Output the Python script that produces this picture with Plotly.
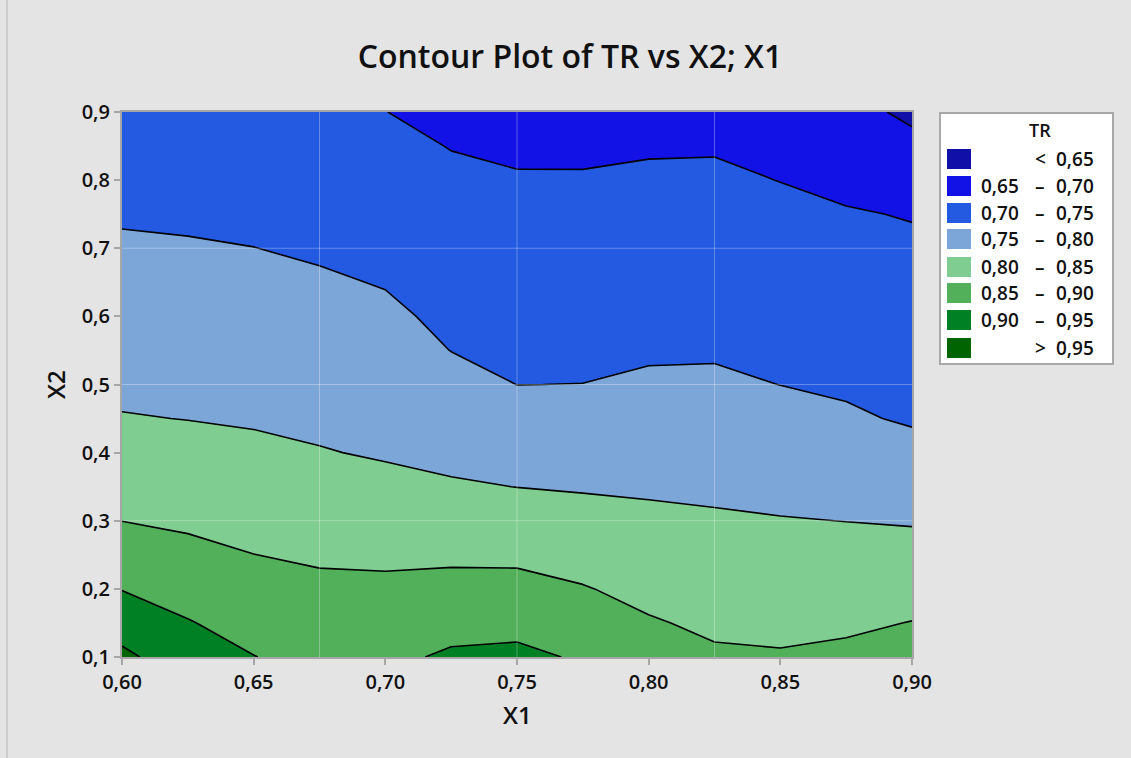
import numpy as np
import plotly.graph_objects as go

# Grid of the fitted response TR over X1 (columns) and X2 (rows)
x1_values = [0.600, 0.625, 0.650, 0.675, 0.700, 0.725, 0.750, 0.775, 0.800, 0.825, 0.850, 0.875, 0.900]
x2_values = [0.10, 0.15, 0.20, 0.25, 0.30, 0.35, 0.40, 0.45, 0.50, 0.55, 0.60, 0.65, 0.70, 0.75, 0.80, 0.85, 0.90]

# TR along X2 (0.10 -> 0.90), one list per X1 column
tr_x1_0600 = [0.9600, 0.9290, 0.8985, 0.8740, 0.8497, 0.8338, 0.8180, 0.8020, 0.7920, 0.7828, 0.7736, 0.7644, 0.7552, 0.7460, 0.7367, 0.7275, 0.7183]
tr_x1_0625 = [0.9230, 0.9025, 0.8818, 0.8612, 0.8432, 0.8284, 0.8136, 0.7993, 0.7900, 0.7809, 0.7717, 0.7625, 0.7533, 0.7440, 0.7348, 0.7256, 0.7164]
tr_x1_0650 = [0.9010, 0.8837, 0.8670, 0.8503, 0.8362, 0.8222, 0.8081, 0.7962, 0.7870, 0.7779, 0.7687, 0.7596, 0.7504, 0.7404, 0.7304, 0.7204, 0.7104]
tr_x1_0675 = [0.8850, 0.8719, 0.8584, 0.8446, 0.8304, 0.8162, 0.8020, 0.7920, 0.7826, 0.7733, 0.7640, 0.7547, 0.7450, 0.7350, 0.7250, 0.7150, 0.7050]
tr_x1_0700 = [0.8900, 0.8741, 0.8582, 0.8423, 0.8261, 0.8100, 0.7963, 0.7866, 0.7769, 0.7672, 0.7575, 0.7479, 0.7384, 0.7289, 0.7194, 0.7099, 0.7004]
tr_x1_0725 = [0.9065, 0.8848, 0.8630, 0.8424, 0.8233, 0.8042, 0.7897, 0.7764, 0.7632, 0.7495, 0.7415, 0.7329, 0.7244, 0.7159, 0.7073, 0.6988, 0.6900]
tr_x1_0750 = [0.9103, 0.8869, 0.8636, 0.8413, 0.8204, 0.7996, 0.7831, 0.7666, 0.7498, 0.7421, 0.7342, 0.7263, 0.7184, 0.7104, 0.7025, 0.6947, 0.6868]
tr_x1_0775 = [0.8950, 0.8738, 0.8525, 0.8335, 0.8147, 0.7966, 0.7812, 0.7657, 0.7503, 0.7422, 0.7343, 0.7264, 0.7184, 0.7105, 0.7025, 0.6946, 0.6867]
tr_x1_0800 = [0.8685, 0.8536, 0.8386, 0.8237, 0.8087, 0.7946, 0.7816, 0.7686, 0.7556, 0.7454, 0.7373, 0.7293, 0.7212, 0.7131, 0.7050, 0.6969, 0.6888]
tr_x1_0825 = [0.8556, 0.8429, 0.8302, 0.8175, 0.8048, 0.7925, 0.7804, 0.7683, 0.7563, 0.7461, 0.7380, 0.7299, 0.7218, 0.7136, 0.7055, 0.6974, 0.6893]
tr_x1_0850 = [0.8534, 0.8405, 0.8276, 0.8147, 0.8018, 0.7888, 0.7758, 0.7628, 0.7497, 0.7414, 0.7330, 0.7247, 0.7163, 0.7079, 0.6995, 0.6894, 0.6794]
tr_x1_0875 = [0.8584, 0.8436, 0.8289, 0.8142, 0.7996, 0.7848, 0.7701, 0.7553, 0.7447, 0.7363, 0.7280, 0.7196, 0.7113, 0.7029, 0.6909, 0.6769, 0.6629]
tr_x1_0900 = [0.8692, 0.8511, 0.8330, 0.8149, 0.7969, 0.7799, 0.7628, 0.7457, 0.7396, 0.7313, 0.7230, 0.7146, 0.7063, 0.6980, 0.6800, 0.6600, 0.6422]

tr_columns = [tr_x1_0600, tr_x1_0625, tr_x1_0650, tr_x1_0675, tr_x1_0700, tr_x1_0725, tr_x1_0750,
              tr_x1_0775, tr_x1_0800, tr_x1_0825, tr_x1_0850, tr_x1_0875, tr_x1_0900]

# Contour levels and band legend
level_start, level_end, level_step = 0.65, 0.95, 0.05
band_labels = [("<", "0,65"), ("0,65", "0,70"), ("0,70", "0,75"), ("0,75", "0,80"),
               ("0,80", "0,85"), ("0,85", "0,90"), ("0,90", "0,95"), (">", "0,95")]
band_colors = ["#1010a8", "#1212e6", "#235ae1", "#7da6d8",
               "#80cd91", "#52b05a", "#008024", "#006400"]

z = np.array(tr_columns).T  # rows follow X2, columns follow X1

# Stepped colour scale: band k is sampled at k/7 by the fill colouring
n = len(band_colors)
colorscale = []
for k, c in enumerate(band_colors):
    lo = 0.0 if k == 0 else (k - 0.5) / (n - 1)
    hi = 1.0 if k == n - 1 else (k + 0.5) / (n - 1)
    colorscale.append([lo, c])
    colorscale.append([hi, c])

W, H = 1131, 758
L, R, T, B = 122, 912, 112, 657  # plot area in pixels

def px(x):
    return (x - L) / (R - L)

def py(y):
    return (B - y) / (B - T)

FONT = "Open Sans"
INK = "#111111"
BG = "#e4e4e4"
FRAME = "#a6a6a6"

fig = go.Figure(go.Contour(
    x=x1_values, y=x2_values, z=z,
    contours=dict(start=level_start, end=level_end, size=level_step, coloring="fill"),
    colorscale=colorscale, showscale=False,
    line=dict(color="black", width=1.6, smoothing=0),
    hoverinfo="skip",
))

shapes = []
# faint grid
for gx in [0.675, 0.75, 0.825]:
    shapes.append(dict(type="line", xref="x", yref="y", x0=gx, x1=gx, y0=0.1, y1=0.9,
                       line=dict(color="rgba(255,255,255,0.3)", width=1), layer="above"))
for gy in [0.3, 0.5, 0.7]:
    shapes.append(dict(type="line", xref="x", yref="y", x0=0.6, x1=0.9, y0=gy, y1=gy,
                       line=dict(color="rgba(255,255,255,0.3)", width=1), layer="above"))

# left edge of the graph window
shapes.append(dict(type="line", xref="paper", yref="paper", x0=px(7), x1=px(7), y0=py(0), y1=py(758),
                   line=dict(color="#cdcdcd", width=2)))

# legend box
shapes.append(dict(type="rect", xref="paper", yref="paper",
                   x0=px(940), x1=px(1113), y0=py(364), y1=py(113),
                   fillcolor="white", line=dict(color="#a8a8a8", width=2)))

annotations = []
annotations.append(dict(text="TR", xref="paper", yref="paper", x=px(1040), y=py(130),
                        showarrow=False, xanchor="center", yanchor="middle",
                        font=dict(family=FONT, size=18, color=INK, weight=600)))
row_centers = [159, 186, 213, 239, 267, 293, 320, 348]
for (lo_txt, hi_txt), color, yc in zip(band_labels, band_colors, row_centers):
    shapes.append(dict(type="rect", xref="paper", yref="paper",
                       x0=px(947), x1=px(971), y0=py(yc + 10), y1=py(yc - 10),
                       fillcolor=color, line=dict(width=0)))
    lf = dict(family=FONT, size=19, color=INK, weight=600)
    if lo_txt in ("<", ">"):
        annotations.append(dict(text=lo_txt, xref="paper", yref="paper", x=px(1040), y=py(yc),
                                showarrow=False, xanchor="center", yanchor="middle", font=lf))
    else:
        annotations.append(dict(text=lo_txt, xref="paper", yref="paper", x=px(1021), y=py(yc),
                                showarrow=False, xanchor="right", yanchor="middle", font=lf))
        annotations.append(dict(text="–", xref="paper", yref="paper", x=px(1040), y=py(yc),
                                showarrow=False, xanchor="center", yanchor="middle", font=lf))
    annotations.append(dict(text=hi_txt, xref="paper", yref="paper", x=px(1096), y=py(yc),
                            showarrow=False, xanchor="right", yanchor="middle", font=lf))

# axis titles
annotations.append(dict(text="X1", xref="paper", yref="paper", x=px(517), y=py(715),
                        showarrow=False, xanchor="center", yanchor="middle",
                        font=dict(family=FONT, size=24, color=INK, weight=600)))
annotations.append(dict(text="X2", xref="paper", yref="paper", x=px(55), y=py(385),
                        showarrow=False, xanchor="center", yanchor="middle", textangle=-90,
                        font=dict(family=FONT, size=24, color=INK, weight=600)))

axis_common = dict(showline=True, mirror=True, linecolor=FRAME, linewidth=2,
                   ticks="outside", ticklen=6, tickwidth=2, tickcolor=FRAME,
                   showgrid=False, zeroline=False,
                   tickfont=dict(family=FONT, size=20, color=INK, weight=600))

fig.update_layout(
    width=W, height=H,
    margin=dict(l=L, r=W - R, t=T, b=H - B),
    paper_bgcolor=BG, plot_bgcolor=BG,
    separators=",.",
    title=dict(text="Contour Plot of TR vs X2; X1", xref="container", yref="container",
               x=570 / W, y=1 - 57 / H, xanchor="center", yanchor="middle",
               font=dict(family=FONT, size=32, color=INK, weight=600)),
    xaxis=dict(range=[0.6, 0.9], tick0=0.6, dtick=0.05, tickformat=".2f", **axis_common),
    yaxis=dict(range=[0.1, 0.9], tick0=0.1, dtick=0.1, tickformat=".1f", **axis_common),
    shapes=shapes,
    annotations=annotations,
    showlegend=False,
)

fig.write_html("out.html")
